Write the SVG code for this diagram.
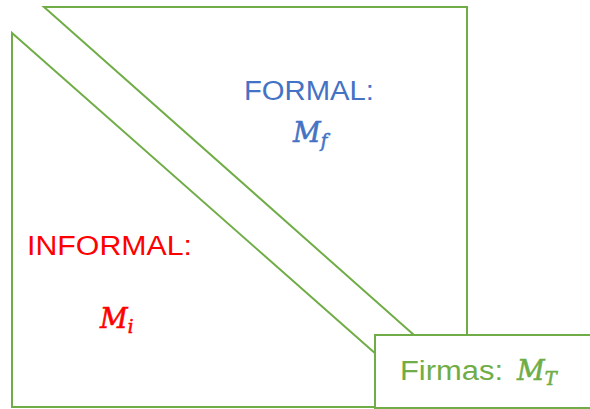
<svg xmlns="http://www.w3.org/2000/svg" width="590" height="409" viewBox="0 0 590 409">
<style>
.shape{fill:#ffffff;stroke:#70AD47;stroke-width:2}
.lbl{font-family:"Liberation Sans","Open Sans",sans-serif;font-size:27px}
.math{font-family:"DejaVu Serif","Liberation Serif",serif;font-style:italic;font-size:27px;stroke-width:0.6}
.sub{font-family:"DejaVu Serif","Liberation Serif",serif;font-style:italic;font-size:18px}
</style>
<rect width="590" height="409" fill="#ffffff"/>
<g id="informal">
<polygon class="shape" points="12,33 12,407 436,407"/>
<text class="lbl" x="27" y="255" fill="#FF0000" textLength="165" lengthAdjust="spacingAndGlyphs">INFORMAL:</text>
<text class="math" x="100" y="328" fill="#FF0000" stroke="#FF0000">M<tspan class="sub" dy="5">i</tspan></text>
</g>
<g id="formal">
<polygon class="shape" points="44,7 467,7 467,382"/>
<text class="lbl" x="244" y="100" fill="#4472C4" textLength="130" lengthAdjust="spacingAndGlyphs">FORMAL:</text>
<text class="math" x="293" y="142" fill="#4472C4" stroke="#4472C4">M<tspan class="sub" dy="5">f</tspan></text>
</g>
<g id="firmas">
<rect class="shape" x="375" y="335" width="220" height="73"/>
<text class="lbl" x="400" y="380" fill="#70AD47" textLength="103" lengthAdjust="spacingAndGlyphs">Firmas:</text>
<text class="math" x="517" y="380" fill="#70AD47" stroke="#70AD47">M<tspan class="sub" dy="5">T</tspan></text>
</g>
<g id="connectors"></g>
</svg>
